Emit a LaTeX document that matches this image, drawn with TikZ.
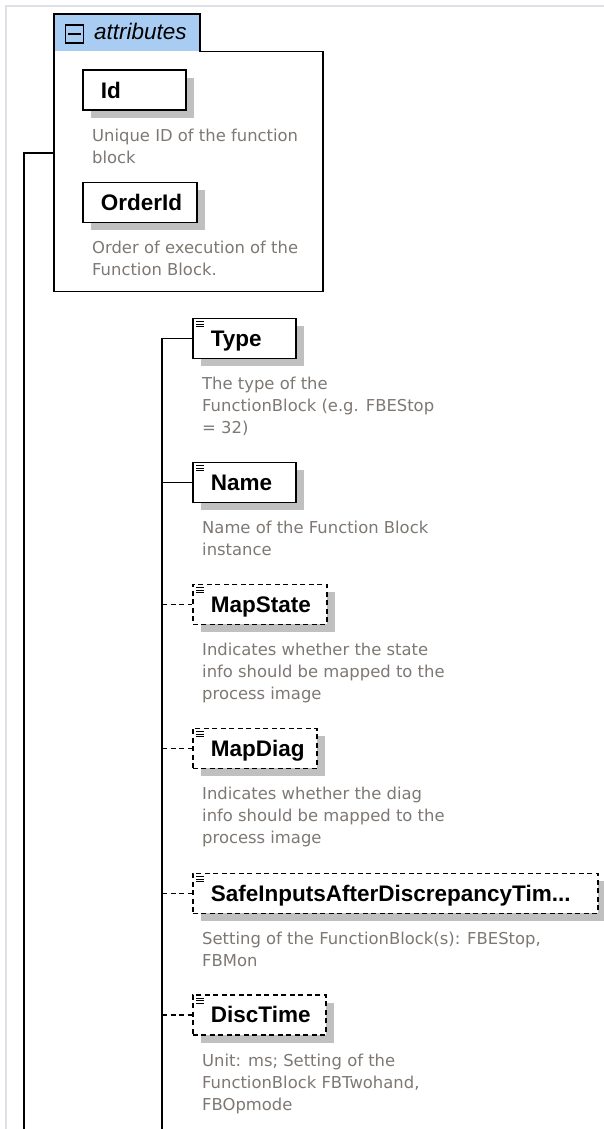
\documentclass[tikz,border=0pt]{standalone}
\usepackage{fontspec}
\setmainfont{Liberation Sans}
\newfontfamily\descfont{DejaVu Sans}
\usetikzlibrary{shadows,positioning}

\definecolor{tabblue}{RGB}{169,205,242}
\definecolor{descgray}{RGB}{125,120,115}
\definecolor{shadowgray}{RGB}{192,192,192}
\definecolor{framegray}{RGB}{221,225,230}

% three small bars in the top left corner of an element box
\newcommand\elemicon[1]{%
  \foreach \k in {0,1,2}
    \draw[line width=0.9pt] ([shift={(4,{4+2.6*\k})}]#1.north west) -- ++(8,0);}

\begin{document}
\begin{tikzpicture}[
        x=1pt, y=-1pt,
        % Define styles for consistency
        elem/.style={draw, line width=1.8pt, fill=white, anchor=north west,
            minimum height=40pt, text height=18pt, text depth=2pt,
            inner ysep=10pt, inner xsep=18pt, align=left,
            font=\fontsize{22.5}{26}\selectfont\bfseries,
            general shadow={fill=shadowgray, shadow xshift=8pt, shadow yshift=-8pt}},
        optelem/.style={elem, dash pattern=on 5pt off 3.5pt},
        desc/.style={anchor=base west, inner sep=0pt, align=left, text=descgray,
            font=\descfont\fontsize{16.4}{22}\selectfont},
        link/.style={line width=1.8pt},
        optlink/.style={link, dash pattern=on 5pt off 3.5pt}
    ]
        \useasboundingbox (0,0) rectangle (604,1129);

        % --- Frame ---
        \draw[framegray, line width=1.5pt] (6,1129) -- (6,6) -- (604,6);

        % --- Attributes group ---
        \fill[tabblue] (54,14) rectangle (200,51.5);
        \draw[line width=1.8pt] (54,14) -- (200,14) -- (200,51.5) -- (323,51.5)
            -- (323,291.5) -- (54,291.5) -- cycle;
        \node[anchor=north west, inner sep=0pt, minimum width=269pt,
            minimum height=277.5pt] (attrs) at (54,14) {};
        \node[draw, line width=1.2pt, anchor=north west, inner sep=0pt,
            minimum size=18pt] (collapse) at (64.5,24.5) {};
        \draw[line width=1.2pt] ([xshift=3pt]collapse.west) -- ([xshift=-3pt]collapse.east);
        \node[anchor=base west, inner sep=0pt,
            font=\fontsize{22.5}{26}\selectfont\itshape] (attrlabel) at (94,40) {attributes};

        % (base of a description = base of its last line)
        \node[elem, text width=67pt] (id) at (82,69.5) {Id};
        \node[desc] (iddesc) at ([shift={(10,52.5)}]id.south west)
            {Unique ID of the function\\block};
        \node[elem, text width=78pt] (orderid) at (82,181.5) {OrderId};
        \node[desc] (orderiddesc) at ([shift={(10,52.5)}]orderid.south west)
            {Order of execution of the\\Function Block.};

        % --- Elements ---
        \node[elem, text width=67pt] (type) at (192,317.5) {Type};
        \node[desc] (typedesc) at ([shift={(10,74.5)}]type.south west)
            {The type of the\\FunctionBlock (e.g. FBEStop\\= 32)};

        \node[elem, text width=67pt] (name) at (192,461.5) {Name};
        \node[desc] (namedesc) at ([shift={(10,52.5)}]name.south west)
            {Name of the Function Block\\instance};

        \node[optelem, text width=98pt] (mapstate) at (192,583.5) {MapState};
        \node[desc] (mapstatedesc) at ([shift={(10,74.5)}]mapstate.south west)
            {Indicates whether the state\\info should be mapped to the\\process image};

        \node[optelem, text width=88pt] (mapdiag) at (192,727.5) {MapDiag};
        \node[desc] (mapdiagdesc) at ([shift={(10,74.5)}]mapdiag.south west)
            {Indicates whether the diag\\info should be mapped to the\\process image};

        \node[optelem, text width=369pt] (safeinputs) at (192,872.5)
            {SafeInputsAfterDiscrepancyTim...};
        \node[desc] (safeinputsdesc) at ([shift={(10,52.5)}]safeinputs.south west)
            {Setting of the FunctionBlock(s): FBEStop,\\FBMon};

        \node[optelem, text width=97pt] (disctime) at (192,994) {DiscTime};
        \node[desc] (disctimedesc) at ([shift={(10,74.5)}]disctime.south west)
            {Unit: ms; Setting of the\\FunctionBlock FBTwohand,\\FBOpmode};

        \elemicon{type}
        \elemicon{name}
        \elemicon{mapstate}
        \elemicon{mapdiag}
        \elemicon{safeinputs}
        \elemicon{disctime}

        % --- Connectors ---
        \coordinate (trunkend) at (24,1131);
        \coordinate (seqend) at (162,1131);
        \draw[link] (trunkend) |- (attrs.west);
        \draw[link] (seqend) |- (type.west);
        \draw[link] (name.west -| seqend) -- (name.west);
        \draw[optlink] (mapstate.west -| seqend) -- (mapstate.west);
        \draw[optlink] (mapdiag.west -| seqend) -- (mapdiag.west);
        \draw[optlink] (safeinputs.west -| seqend) -- (safeinputs.west);
        \draw[optlink] (disctime.west -| seqend) -- (disctime.west);

\end{tikzpicture}
\end{document}
